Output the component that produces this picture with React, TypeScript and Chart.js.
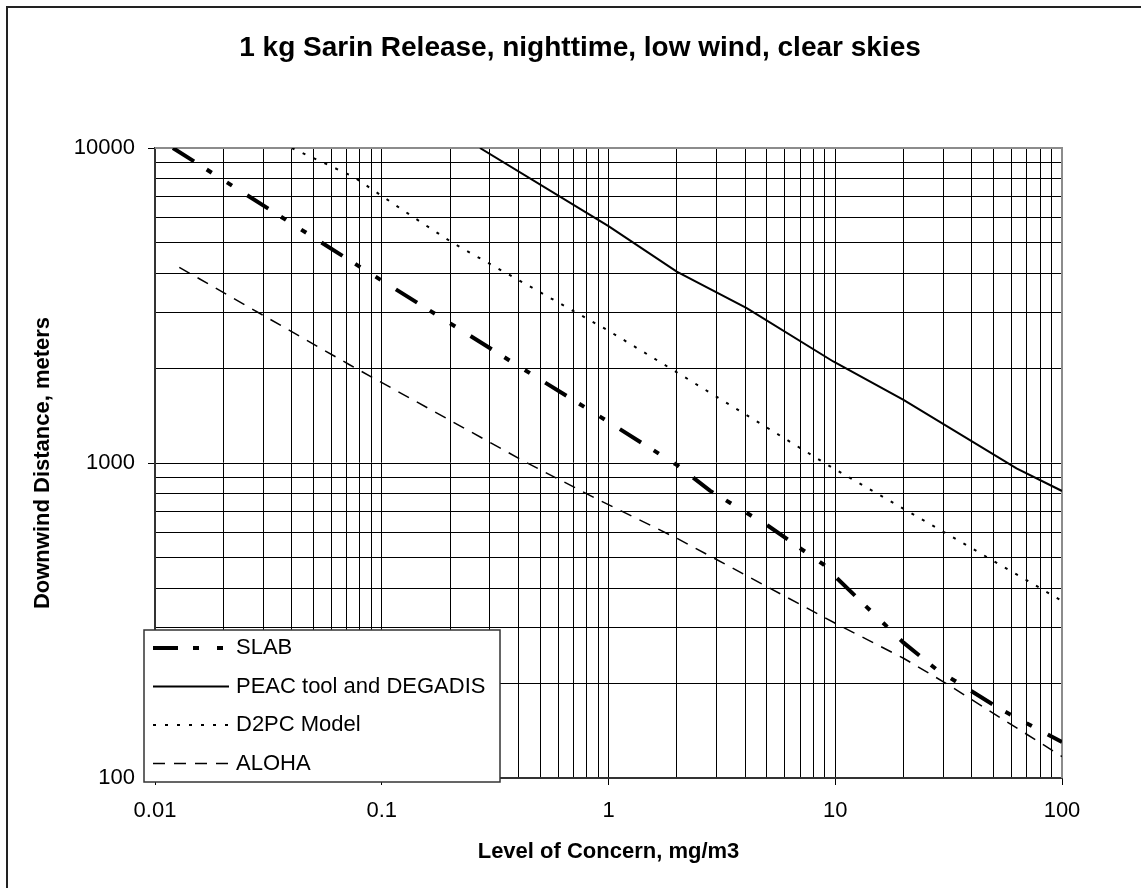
import React, { useEffect, useRef } from 'react';
import { Chart, registerables } from 'chart.js';

Chart.register(...registerables);

const chartTitle = '1 kg Sarin Release, nighttime, low wind, clear skies';
const xAxisTitle = 'Level of Concern, mg/m3';
const yAxisTitle = 'Downwind Distance, meters';
const seriesNames = ['SLAB', 'PEAC tool and DEGADIS', 'D2PC Model', 'ALOHA'];

const slabX = [0.012, 0.0737, 0.394, 1, 2, 2.8, 5.07, 8.92, 10, 20, 28, 53, 100];
const slabY = [10000, 4355, 2047, 1350, 986, 817, 631, 475, 436, 269, 221, 166, 130];
const peacX = [0.271, 1, 2, 4.07, 9.8, 20, 63, 100];
const peacY = [10000, 5650, 4050, 3100, 2100, 1585, 962, 815];
const d2pcX = [0.0401, 0.0749, 0.137, 0.2068, 1.016, 2, 9.8, 30, 100];
const d2pcY = [10000, 8110, 6050, 4983, 2612, 1941, 962, 605, 365];
const alohaX = [0.0128, 0.0724, 0.4357, 0.917, 2, 10, 20, 30, 100];
const alohaY = [4180, 2047, 1002, 760, 577, 310, 240, 202, 117];

const xTickLabels = ['0.01', '0.1', '1', '10', '100'];
const yTickLabels = ['100', '1000', '10000'];

const FONT = 'Arial, "Liberation Sans", sans-serif';

function gridValues(labels: string[]): number[] {
  const out: number[] = [];
  const decs = labels.map(Number);
  for (let i = 0; i < decs.length - 1; i++) {
    for (let m = 1; m <= 9; m++) out.push(parseFloat((m * decs[i]).toPrecision(4)));
  }
  out.push(decs[decs.length - 1]);
  return out;
}

function pts(xs: number[], ys: number[]) {
  return xs.map((x, i) => ({ x, y: ys[i] }));
}

function labelFor(labels: string[], v: number): string {
  const hit = labels.find((l) => Math.abs(Number(l) - v) / Number(l) < 1e-6);
  return hit ?? '';
}

const decorPlugin = {
  id: 'decor',
  beforeDatasetsDraw(chart: any) {
    const { ctx, chartArea: a } = chart;
    ctx.save();
    ctx.strokeStyle = '#8c8c8c';
    ctx.lineWidth = 2;
    ctx.beginPath();
    ctx.moveTo(a.left, a.top);
    ctx.lineTo(a.right, a.top);
    ctx.lineTo(a.right, a.bottom);
    ctx.stroke();
    ctx.restore();
  },
  afterDraw(chart: any) {
    const { ctx } = chart;
    ctx.save();
    // outer frame (left and top visible)
    ctx.strokeStyle = '#222';
    ctx.lineWidth = 2;
    ctx.beginPath();
    ctx.moveTo(7, chart.height);
    ctx.lineTo(7, 7);
    ctx.lineTo(chart.width, 7);
    ctx.stroke();
    // title
    ctx.fillStyle = '#000';
    ctx.font = `bold 28px ${FONT}`;
    ctx.textAlign = 'center';
    ctx.textBaseline = 'middle';
    ctx.fillText(chartTitle, 580, 48);
    // legend
    const lx = 144, ly = 630, lw = 356, lh = 152;
    ctx.fillStyle = '#fff';
    ctx.fillRect(lx, ly, lw, lh);
    ctx.strokeStyle = '#333';
    ctx.lineWidth = 1.5;
    ctx.strokeRect(lx, ly, lw, lh);
    chart.data.datasets.forEach((ds: any, i: number) => {
      const y = 648 + i * 38.5;
      ctx.save();
      ctx.strokeStyle = ds.borderColor;
      ctx.lineWidth = ds.borderWidth;
      ctx.setLineDash(ds.borderDash || []);
      ctx.beginPath();
      ctx.moveTo(153, y);
      ctx.lineTo(229, y);
      ctx.stroke();
      ctx.restore();
      ctx.fillStyle = '#000';
      ctx.font = `22px ${FONT}`;
      ctx.textAlign = 'left';
      ctx.textBaseline = 'middle';
      ctx.fillText(ds.label, 236, y);
    });
    ctx.restore();
  },
};

export default function App() {
  const ref = useRef<HTMLCanvasElement | null>(null);

  useEffect(() => {
    if (!ref.current) return;
    const xGrid = gridValues(xTickLabels);
    const yGrid = gridValues(yTickLabels);
    const chart = new Chart(ref.current, {
      type: 'line',
      data: {
        datasets: [
          {
            label: seriesNames[0],
            data: pts(slabX, slabY),
            borderColor: '#000',
            borderWidth: 4,
            borderDash: [25, 15, 6, 18, 6, 18],
            pointRadius: 0,
            tension: 0,
          },
          {
            label: seriesNames[1],
            data: pts(peacX, peacY),
            borderColor: '#000',
            borderWidth: 2,
            borderDash: [],
            pointRadius: 0,
            tension: 0,
          },
          {
            label: seriesNames[2],
            data: pts(d2pcX, d2pcY),
            borderColor: '#000',
            borderWidth: 2,
            borderDash: [3, 9],
            pointRadius: 0,
            tension: 0,
          },
          {
            label: seriesNames[3],
            data: pts(alohaX, alohaY),
            borderColor: '#000',
            borderWidth: 1.5,
            borderDash: [12, 9],
            pointRadius: 0,
            tension: 0,
          },
        ],
      },
      options: {
        responsive: false,
        animation: false,
        devicePixelRatio: 1,
        layout: { padding: { top: 148, left: 0, right: 79, bottom: 0 } },
        plugins: {
          legend: { display: false },
          title: { display: false },
          tooltip: { enabled: false },
        },
        scales: {
          x: {
            type: 'logarithmic',
            min: 0.01,
            max: 100,
            afterBuildTicks: (s: any) => {
              s.ticks = xGrid.map((v) => ({ value: v }));
            },
            afterFit: (s: any) => {
              s.height = 110;
            },
            ticks: {
              autoSkip: false,
              maxRotation: 0,
              minRotation: 0,
              padding: 13,
              color: '#000',
              font: { family: FONT, size: 22 },
              callback: (v: any) => labelFor(xTickLabels, Number(v)),
            },
            grid: {
              color: '#000',
              lineWidth: 1,
              tickLength: 7,
              tickColor: (c: any) => (labelFor(xTickLabels, c.tick?.value) ? '#000' : 'rgba(0,0,0,0)'),
            },
            border: { display: true, color: '#333', width: 2 },
            title: {
              display: true,
              text: xAxisTitle,
              color: '#000',
              font: { family: FONT, size: 22, weight: 'bold' },
              padding: { top: 0, bottom: 23 },
            },
          },
          y: {
            type: 'logarithmic',
            min: 100,
            max: 10000,
            afterBuildTicks: (s: any) => {
              s.ticks = yGrid.map((v) => ({ value: v }));
            },
            afterFit: (s: any) => {
              s.width = 155;
            },
            ticks: {
              autoSkip: false,
              padding: 13,
              color: '#000',
              font: { family: FONT, size: 22 },
              callback: (v: any) => labelFor(yTickLabels, Number(v)),
            },
            grid: {
              color: '#000',
              lineWidth: 1,
              tickLength: 7,
              tickColor: (c: any) => (labelFor(yTickLabels, c.tick?.value) ? '#000' : 'rgba(0,0,0,0)'),
            },
            border: { display: true, color: '#333', width: 2 },
            title: {
              display: true,
              text: yAxisTitle,
              color: '#000',
              font: { family: FONT, size: 22, weight: 'bold' },
              padding: { top: 30, bottom: 0 },
            },
          },
        },
      } as any,
      plugins: [decorPlugin],
    });
    return () => chart.destroy();
  }, []);

  return (
    <div style={{ position: 'absolute', left: 0, top: 0, width: 1141, height: 888, background: '#fff' }}>
      <canvas ref={ref} width={1141} height={888} style={{ display: 'block' }} />
    </div>
  );
}
